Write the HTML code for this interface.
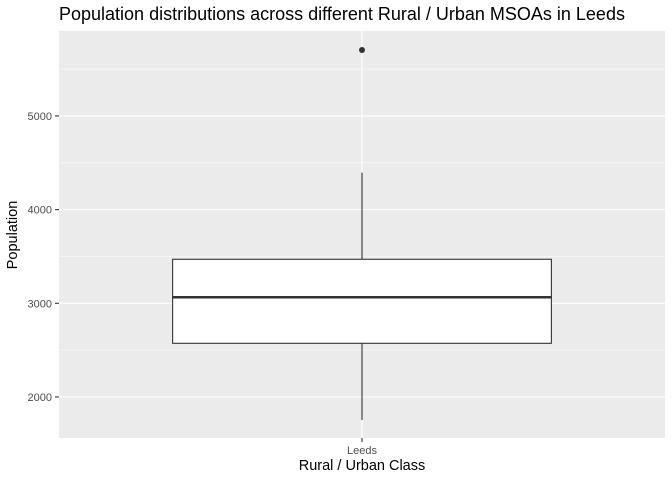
<!DOCTYPE html>
<html><head><meta charset="utf-8"><style>
body{margin:0;background:#fff}
svg{display:block;font-family:"Liberation Sans",sans-serif}
</style></head><body>
<svg id="chart" width="672" height="480">
<text x="59" y="20" font-size="18" fill="#000">Population distributions across different Rural / Urban MSOAs in Leeds</text>
<rect x="59" y="31" width="606" height="407" fill="#ebebeb"/>
<g id="grid"></g>
<g id="marks"></g>
<g id="axes"></g>
<text x="362" y="470" font-size="14.5" text-anchor="middle" fill="#000">Rural / Urban Class</text>
<text transform="translate(17,235) rotate(-90)" font-size="14.5" text-anchor="middle" fill="#000">Population</text>
</svg>
<script>
const categories = ["Leeds"];
const q1 = [2573];
const median = [3064];
const q3 = [3470];
const whiskerLow = [1755];
const whiskerHigh = [4395];
const outliers = [[5704]];
const yTicks = [2000, 3000, 4000, 5000];
const yMinor = [2500, 3500, 4500, 5500];

const NS = "http://www.w3.org/2000/svg";
const px0 = 59, px1 = 665, py0 = 438, py1 = 31;
const yMin = 1562, yMax = 5907;
function y(v){ return py0 - (v - yMin) / (yMax - yMin) * (py0 - py1); }
const n = categories.length;
function x(i){ const lo = 0.4, hi = n + 0.6; return px0 + ((i + 1) - lo) / (hi - lo) * (px1 - px0); }
const bandPx = (px1 - px0) / (n + 0.2);
function mk(tag, attrs, parent){ const e = document.createElementNS(NS, tag); for (const k in attrs) e.setAttribute(k, attrs[k]); parent.appendChild(e); return e; }
const grid = document.getElementById("grid"), marks = document.getElementById("marks"), axes = document.getElementById("axes");

yMinor.forEach(v => {
  const l = mk("line", {x1: px0, x2: px1, y1: y(v), y2: y(v), stroke: "#fff", "stroke-width": 0.55}, grid);
  
  
});
yTicks.forEach(v => {
  const l = mk("line", {x1: px0, x2: px1, y1: y(v), y2: y(v), stroke: "#fff", "stroke-width": 1.1}, grid);
  
  
  const t = mk("line", {x1: px0 - 4, x2: px0, y1: y(v), y2: y(v), stroke: "#333", "stroke-width": 1.1}, axes);
  
  
  const tx = mk("text", {x: px0 - 7, y: y(v) + 4, "font-size": 11, fill: "#4d4d4d", "text-anchor": "end"}, axes);
  tx.textContent = v;
  
  
});
categories.forEach((c, i) => {
  const cx = x(i);
  const g = mk("line", {x1: cx, x2: cx, y1: py0, y2: py1, stroke: "#fff", "stroke-width": 1.1}, grid);
  
  
  const t = mk("line", {x1: cx, x2: cx, y1: py0, y2: py0 + 4, stroke: "#333", "stroke-width": 1.1}, axes);
  
  
  const tl = mk("text", {x: cx, y: py0 + 16, "font-size": 11, fill: "#4d4d4d", "text-anchor": "middle"}, axes);
  tl.textContent = c;
  
  
  const w = bandPx * 0.75;
  const wl = mk("line", {x1: cx, x2: cx, y1: y(whiskerHigh[i]), y2: y(q3[i]), stroke: "#333", "stroke-width": 1.1}, marks);
  
  
  const wl2 = mk("line", {x1: cx, x2: cx, y1: y(q1[i]), y2: y(whiskerLow[i]), stroke: "#333", "stroke-width": 1.1}, marks);
  
  
  const b = mk("rect", {x: cx - w / 2, y: y(q3[i]), width: w, height: y(q1[i]) - y(q3[i]), fill: "#fff", stroke: "#333", "stroke-width": 1.1}, marks);
  
  
  const m = mk("line", {x1: cx - w / 2, x2: cx + w / 2, y1: y(median[i]), y2: y(median[i]), stroke: "#333", "stroke-width": 2.5}, marks);
  
  
  outliers[i].forEach(v => {
    const o = mk("circle", {cx: cx, cy: y(v), r: 3, fill: "#333"}, marks);
    
    
  });
});
</script>
</body></html>
